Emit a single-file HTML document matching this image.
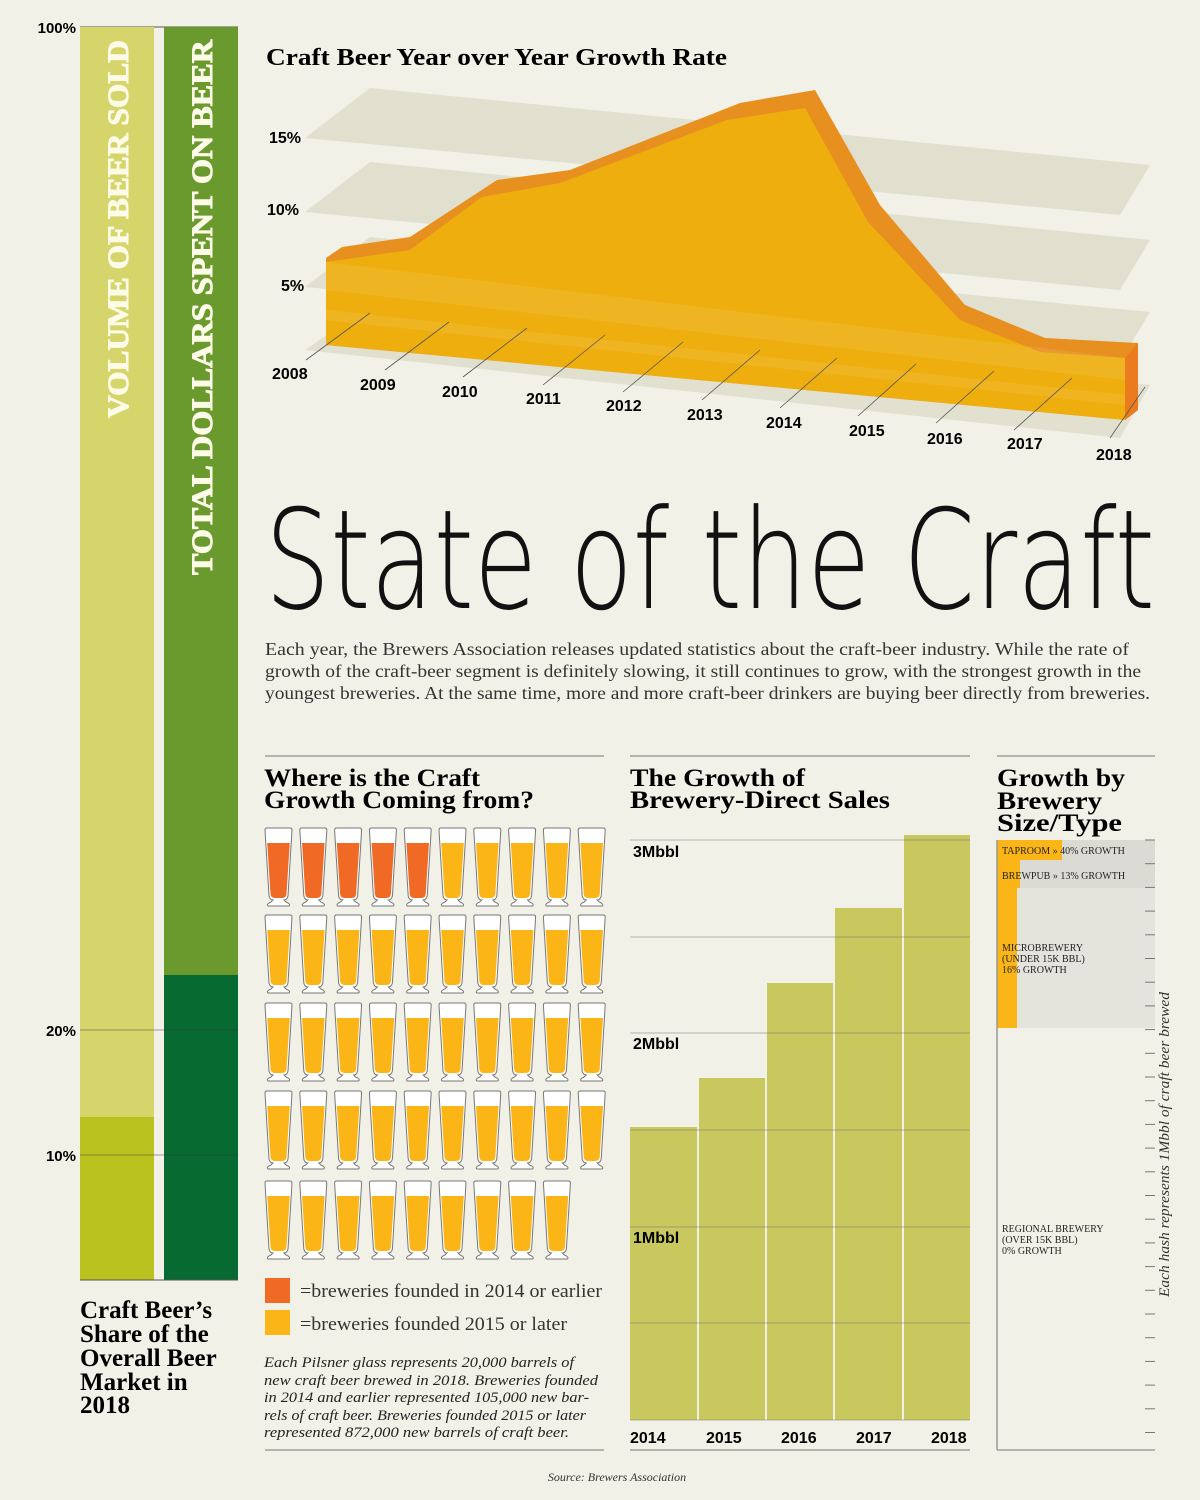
<!DOCTYPE html>
<html><head><meta charset="utf-8"><style>
html,body{margin:0;padding:0;background:#f2f1e7;}
svg{display:block;}
.b{font-family:"Liberation Serif",serif;font-weight:bold;}
.s{font-family:"Liberation Sans",sans-serif;font-weight:bold;}
.l{font-family:"Liberation Serif",serif;}
</style></head><body>
<svg width="1200" height="1500" viewBox="0 0 1200 1500" xmlns="http://www.w3.org/2000/svg">
<rect width="1200" height="1500" fill="#f2f1e7"/>
<defs>
<g id="gl">
<path d="M0,2 Q0,0 2,0 L25,0 Q27,0 27,2 L23,68 Q22,72 19,72 L21,74 Q26,76 24,78 L3,78 Q1,76 6,74 L8,72 Q5,72 4,68 Z" fill="#fff" stroke="#777" stroke-width="1"/>
</g>
</defs>
<!-- left bars -->
<line x1="80" y1="27" x2="238" y2="27" stroke="#555" stroke-width="1"/>
<rect x="80" y="27" width="74" height="1253" fill="#d6d56b"/>
<rect x="80" y="1117" width="74" height="163" fill="#bac21f"/>
<rect x="164" y="27" width="74" height="1253" fill="#6a9a2e"/>
<rect x="164" y="975" width="74" height="305" fill="#066a31"/>
<line x1="80" y1="1030" x2="238" y2="1030" stroke="#333" stroke-width="0.8" opacity="0.6"/>
<line x1="80" y1="1155" x2="238" y2="1155" stroke="#333" stroke-width="0.8" opacity="0.6"/>
<line x1="80" y1="1280" x2="238" y2="1280" stroke="#555" stroke-width="1"/>
<text x="76" y="33" class="s" font-size="15" text-anchor="end">100%</text>
<text x="76" y="1036" class="s" font-size="15" text-anchor="end">20%</text>
<text x="76" y="1161" class="s" font-size="15" text-anchor="end">10%</text>
<text transform="translate(128,418) rotate(-90)" class="b" font-size="30" fill="#fbfbe8" stroke="#fbfbe8" stroke-width="1" textLength="378" lengthAdjust="spacingAndGlyphs">VOLUME OF BEER SOLD</text>
<text transform="translate(212,575) rotate(-90)" class="b" font-size="30" fill="#fbfbe8" stroke="#fbfbe8" stroke-width="1" textLength="535" lengthAdjust="spacingAndGlyphs">TOTAL DOLLARS SPENT ON BEER</text>
<g class="b" font-size="25">
<text x="80" y="1318">Craft Beer’s</text>
<text x="80" y="1342">Share of the</text>
<text x="80" y="1366">Overall Beer</text>
<text x="80" y="1390">Market in</text>
<text x="80" y="1413">2018</text>
</g>
<!-- top chart -->
<text x="266" y="65" class="b" font-size="24" textLength="461" lengthAdjust="spacingAndGlyphs">Craft Beer Year over Year Growth Rate</text>
<g fill="#dcd9c6" opacity="0.75">
<polygon points="305,138 370,88 1150,165 1120,215"/>
<polygon points="305,212 370,162 1150,240 1120,290"/>
<polygon points="305,287 370,237 1150,312 1120,362"/>
<polygon points="305,350 370,305 1150,385 1120,438"/>
</g>
<polygon points="326,258 342,247 410,237 497,180 570,170 740,103 815,90 880,205 965,305 1045,338 1138,343 1138,410 1125,420 326,345" fill="#e8901f"/>
<polygon points="326,262 410,250 482,197 560,183 727,120 805,108 868,222 960,320 1040,352 1125,358 1125,420 326,345" fill="#eeae0e"/>
<polygon points="1125,358 1138,343 1138,410 1125,420" fill="#ec7a1e"/>
<g fill="#fff" opacity="0.08">
<polygon points="326,262 1125,358 1125,380 326,290"/>
<polygon points="326,310 1125,395 1125,405 326,320"/>
</g>
<g stroke="#555" stroke-width="0.8">
<line x1="306" y1="360" x2="370" y2="313"/><line x1="385" y1="370" x2="449" y2="322"/>
<line x1="463" y1="377" x2="527" y2="328"/><line x1="543" y1="385" x2="605" y2="335"/>
<line x1="623" y1="392" x2="683" y2="342"/><line x1="702" y1="400" x2="760" y2="350"/>
<line x1="780" y1="408" x2="837" y2="358"/><line x1="858" y1="416" x2="916" y2="364"/>
<line x1="936" y1="423" x2="994" y2="371"/><line x1="1014" y1="430" x2="1072" y2="378"/>
<line x1="1110" y1="438" x2="1145" y2="387"/>
</g>
<g class="s" font-size="16">
<text x="269" y="143">15%</text><text x="267" y="215">10%</text><text x="281" y="291">5%</text>
<text x="272" y="379">2008</text><text x="360" y="390">2009</text><text x="442" y="397">2010</text>
<text x="526" y="404">2011</text><text x="606" y="411">2012</text><text x="687" y="420">2013</text>
<text x="766" y="428">2014</text><text x="849" y="436">2015</text><text x="927" y="444">2016</text>
<text x="1007" y="449">2017</text><text x="1096" y="460">2018</text>
</g>
<!-- title -->
<text x="265" y="608" font-family="'DejaVu Sans',sans-serif" font-weight="200" font-size="138" textLength="890" lengthAdjust="spacingAndGlyphs" fill="#111">State of the Craft</text>
<g class="l" font-size="18" fill="#333">
<text x="265" y="655" textLength="864" lengthAdjust="spacingAndGlyphs">Each year, the Brewers Association releases updated statistics about the craft-beer industry. While the rate of</text>
<text x="265" y="677" textLength="876" lengthAdjust="spacingAndGlyphs">growth of the craft-beer segment is definitely slowing, it still continues to grow, with the strongest growth in the</text>
<text x="265" y="699" textLength="885" lengthAdjust="spacingAndGlyphs">youngest breweries. At the same time, more and more craft-beer drinkers are buying beer directly from breweries.</text>
</g>
<!-- section lines -->
<g stroke="#777" stroke-width="1">
<line x1="265" y1="756" x2="604" y2="756"/><line x1="630" y1="756" x2="970" y2="756"/><line x1="997" y1="756" x2="1155" y2="756"/>
<line x1="265" y1="1450" x2="604" y2="1450"/><line x1="630" y1="1450" x2="970" y2="1450"/><line x1="997" y1="1450" x2="1155" y2="1450"/>
</g>
<g class="b" font-size="25">
<text x="264" y="786" textLength="216" lengthAdjust="spacingAndGlyphs">Where is the Craft</text>
<text x="264" y="808" textLength="270" lengthAdjust="spacingAndGlyphs">Growth Coming from?</text>
<text x="630" y="786" textLength="175" lengthAdjust="spacingAndGlyphs">The Growth of</text>
<text x="630" y="808" textLength="260" lengthAdjust="spacingAndGlyphs">Brewery-Direct Sales</text>
<text x="997" y="786" textLength="128" lengthAdjust="spacingAndGlyphs">Growth by</text>
<text x="997" y="809" textLength="105" lengthAdjust="spacingAndGlyphs">Brewery</text>
<text x="997" y="831" textLength="125" lengthAdjust="spacingAndGlyphs">Size/Type</text>
</g>
<!-- glasses -->
<g id="glasses"></g>
<script>
(function(){
var g=document.getElementById('glasses'),ns='http://www.w3.org/2000/svg';
var rows=[828,915,1003,1091,1181];
for(var r=0;r<5;r++){for(var c=0;c<10;c++){
 if(r==4&&c==9)continue;
 var x=265+c*34.8,y=rows[r];
 var u=document.createElementNS(ns,'use');u.setAttribute('href','#gl');u.setAttribute('x',x);u.setAttribute('y',y);g.appendChild(u);
 var f=document.createElementNS(ns,'path');
 f.setAttribute('d','M'+(x+2.2)+','+(y+15)+' L'+(x+24.8)+','+(y+15)+' L'+(x+21.5)+','+(y+66)+' Q'+(x+21)+','+(y+70)+' '+(x+17)+','+(y+70)+' L'+(x+10)+','+(y+70)+' Q'+(x+6)+','+(y+70)+' '+(x+5.5)+','+(y+66)+' Z');
 f.setAttribute('fill',(r==0&&c<5)?'#f06a26':'#fbb516');g.appendChild(f);
}}
})();
</script>
<rect x="265" y="1278" width="25" height="25" fill="#f06a26"/>
<rect x="265" y="1310" width="25" height="25" fill="#fbb516"/>
<g class="l" font-size="19" fill="#333">
<text x="300" y="1297" textLength="302" lengthAdjust="spacingAndGlyphs">=breweries founded in 2014 or earlier</text>
<text x="300" y="1330" textLength="267" lengthAdjust="spacingAndGlyphs">=breweries founded 2015 or later</text>
</g>
<g class="l" font-size="15" font-style="italic" fill="#222">
<text x="264" y="1367" textLength="310" lengthAdjust="spacingAndGlyphs">Each Pilsner glass represents 20,000 barrels of</text>
<text x="264" y="1385" textLength="334" lengthAdjust="spacingAndGlyphs">new craft beer brewed in 2018. Breweries founded</text>
<text x="264" y="1402" textLength="325" lengthAdjust="spacingAndGlyphs">in 2014 and earlier represented 105,000 new bar-</text>
<text x="264" y="1420" textLength="322" lengthAdjust="spacingAndGlyphs">rels of craft beer. Breweries founded 2015 or later</text>
<text x="264" y="1437" textLength="305" lengthAdjust="spacingAndGlyphs">represented 872,000 new barrels of craft beer.</text>
</g>
<!-- middle bars -->
<g fill="#c9c85f">
<rect x="630" y="1127" width="67" height="293"/>
<rect x="699" y="1078" width="66" height="342"/>
<rect x="767" y="983" width="66" height="437"/>
<rect x="835" y="908" width="67" height="512"/>
<rect x="904" y="835" width="66" height="585"/>
</g>
<g stroke="#777" stroke-width="0.8" opacity="0.7">
<line x1="630" y1="840" x2="970" y2="840"/><line x1="630" y1="937" x2="970" y2="937"/>
<line x1="630" y1="1033" x2="970" y2="1033"/><line x1="630" y1="1130" x2="970" y2="1130"/>
<line x1="630" y1="1227" x2="970" y2="1227"/><line x1="630" y1="1323" x2="970" y2="1323"/>
<line x1="630" y1="1420" x2="970" y2="1420"/>
</g>
<g class="s" font-size="16">
<text x="633" y="857">3Mbbl</text><text x="633" y="1049">2Mbbl</text><text x="633" y="1243">1Mbbl</text>
<text x="630" y="1443">2014</text><text x="706" y="1443">2015</text><text x="781" y="1443">2016</text>
<text x="856" y="1443">2017</text><text x="931" y="1443">2018</text>
</g>
<!-- right panel -->
<rect x="997" y="840" width="158" height="188" fill="#e4e3dc"/>
<rect x="997" y="840" width="158" height="48" fill="#dcdbd3"/>
<rect x="997" y="840" width="65" height="20" fill="#fbb516"/>
<rect x="997" y="860" width="20" height="168" fill="#fbb516"/>
<rect x="1017" y="860" width="3" height="28" fill="#fbb516"/>
<line x1="997" y1="840" x2="997" y2="1450" stroke="#999" stroke-width="1.5"/>
<g id="ticks" stroke="#777" stroke-width="1"></g>
<script>
(function(){var g=document.getElementById('ticks');for(var i=0;i<26;i++){var y=840+i*23.7;var l=document.createElementNS('http://www.w3.org/2000/svg','line');l.setAttribute('x1',1145);l.setAttribute('x2',1155);l.setAttribute('y1',y);l.setAttribute('y2',y);g.appendChild(l);}})();
</script>
<g class="l" font-size="10" fill="#222">
<text x="1002" y="854">TAPROOM » 40% GROWTH</text>
<text x="1002" y="879">BREWPUB » 13% GROWTH</text>
<text x="1002" y="951">MICROBREWERY</text>
<text x="1002" y="962">(UNDER 15K BBL)</text>
<text x="1002" y="973">16% GROWTH</text>
<text x="1002" y="1232">REGIONAL BREWERY</text>
<text x="1002" y="1243">(OVER 15K BBL)</text>
<text x="1002" y="1254">0% GROWTH</text>
</g>
<text transform="translate(1169,1297) rotate(-90)" class="l" font-size="15" font-style="italic" fill="#333" textLength="305" lengthAdjust="spacingAndGlyphs">Each hash represents 1Mbbl of craft beer brewed</text>
<text x="617" y="1481" class="l" font-size="12" font-style="italic" text-anchor="middle" fill="#333">Source: Brewers Association</text>
</svg>
</body></html>
